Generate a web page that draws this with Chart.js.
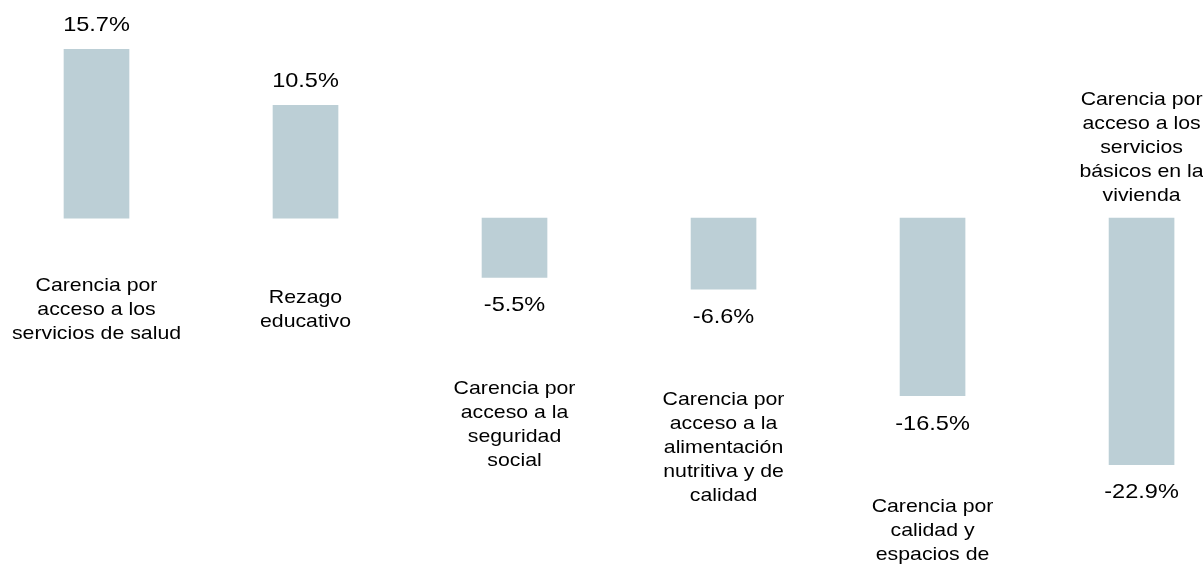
<!DOCTYPE html>
<html lang="es">
<head>
  <meta charset="UTF-8" />
  <title>Carencias sociales — variación</title>
  <script src="https://cdnjs.cloudflare.com/ajax/libs/Chart.js/4.4.1/chart.umd.js"></script>
  <style>
    body {
      margin: 0;
      background: #fff;
    }
    canvas {
      display: block;
    }
  </style>
</head>
<body>
  <canvas id="chart" width="1203" height="569"></canvas>

  <script>
    const categories = [
      ['Carencia por', 'acceso a los', 'servicios de salud'],
      ['Rezago', 'educativo'],
      ['Carencia por', 'acceso a la', 'seguridad', 'social'],
      ['Carencia por', 'acceso a la', 'alimentación', 'nutritiva y de', 'calidad'],
      ['Carencia por', 'calidad y', 'espacios de', 'la vivienda'],
      ['Carencia por', 'acceso a los', 'servicios', 'básicos en la', 'vivienda'],
    ];
    const values = [15.7, 10.5, -5.5, -6.6, -16.5, -22.9];

    const STRETCH = 1.12;

    function stretchedText(ctx, text, x, y) {
      ctx.save();
      ctx.translate(x, y);
      ctx.scale(STRETCH, 1);
      ctx.fillText(text, 0, 0);
      ctx.restore();
    }

    // value labels at the bar ends, category labels further out
    const barLabels = {
      id: 'barLabels',
      afterDatasetsDraw(chart, args, opts) {
        const ctx = chart.ctx;
        const meta = chart.getDatasetMeta(0);
        const zero = chart.scales.y.getPixelForValue(0);
        ctx.save();
        ctx.fillStyle = '#000';
        ctx.textAlign = 'center';
        ctx.textBaseline = 'middle';
        meta.data.forEach((bar, i) => {
          const v = values[i];
          const vy = v >= 0 ? bar.y - 24 : bar.y + 28;
          ctx.font = '21px "Liberation Sans", Arial, sans-serif';
          stretchedText(ctx, v.toFixed(1) + '%', bar.x, vy);

          const lines = categories[i];
          const lh = 24;
          let top;
          if (opts.above.includes(i)) {
            top = zero - 22 - lh * (lines.length - 1);
          } else if (v >= 0) {
            top = zero + 92 - lh * (lines.length - 1) / 2;
          } else {
            top = vy + 83;
          }
          ctx.font = '19px "Liberation Sans", Arial, sans-serif';
          lines.forEach((t, k) => stretchedText(ctx, t, bar.x, top + k * lh));
        });
        ctx.restore();
      }
    };

    new Chart(document.getElementById('chart'), {
      type: 'bar',
      data: {
        datasets: [{
          data: values.map((v, i) => ({ x: i, y: v })),
          backgroundColor: '#BCCFD6',
          borderWidth: 0,
          barThickness: 65,
        }]
      },
      options: {
        responsive: false,
        animation: false,
        layout: { padding: { top: 3, bottom: 28, left: 0, right: 0 } },
        plugins: {
          legend: { display: false },
          tooltip: { enabled: false },
          barLabels: { above: [5] },
        },
        scales: {
          x: {
            type: 'linear',
            display: false,
            offset: false,
            grid: { offset: false },
            min: -0.4617,
            max: 5.294,
          },
          y: {
            display: false,
            min: -30,
            max: 20,
          }
        }
      },
      plugins: [barLabels]
    });
  </script>
</body>
</html>
